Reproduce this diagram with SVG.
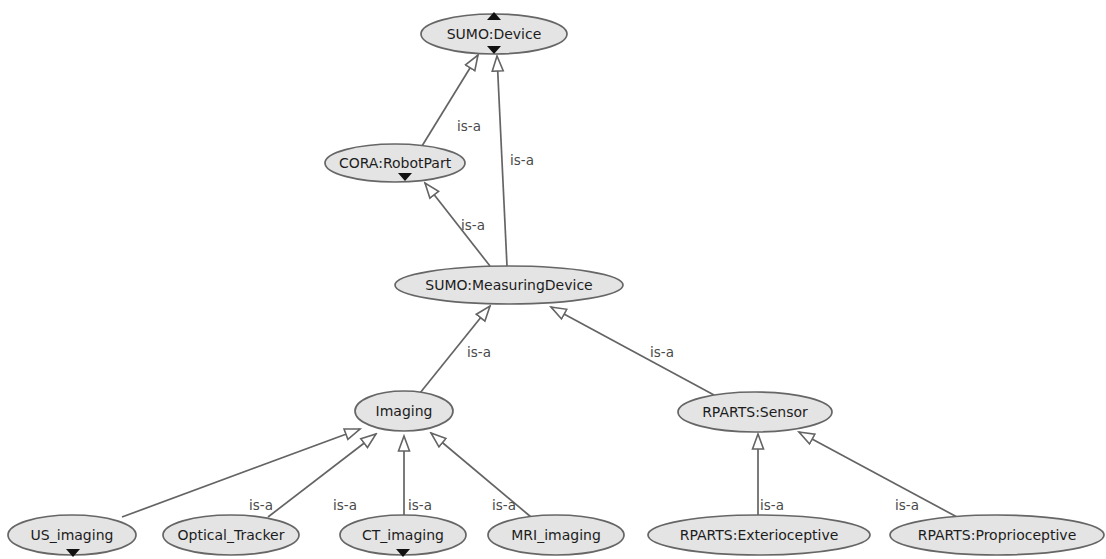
<svg xmlns="http://www.w3.org/2000/svg" width="1106" height="559" viewBox="0 0 1106 559">
  <style>
    .node ellipse { fill: #e4e4e4; stroke: #666; stroke-width: 1.7; }
    .node text { font-family: "DejaVu Sans", "Liberation Sans", sans-serif; font-size: 14px; fill: #1c1c1c; text-anchor: middle; }
    .expand { fill: #111; }
    .edges line { stroke: #646464; stroke-width: 1.7; fill: none; }
    .lbl { font-family: "DejaVu Sans", "Liberation Sans", sans-serif; font-size: 13.5px; fill: #4a4a4a; }
  </style>
  <defs>
    <!-- hollow "is-a" arrowhead -->
    <marker id="isa" markerUnits="userSpaceOnUse" markerWidth="18" markerHeight="14" refX="16" refY="7" orient="auto">
      <path d="M1,1.5 L16,7 L1,12.5 Z" fill="#fff" stroke="#646464" stroke-width="1.6"/>
    </marker>
  </defs>
  <rect width="1106" height="559" fill="#fff"/>

  <g class="edges">
    <line x1="422" y1="146" x2="478" y2="55" marker-end="url(#isa)"/>
    <line x1="507" y1="266" x2="497" y2="56" marker-end="url(#isa)"/>
    <line x1="490" y1="266" x2="425" y2="183" marker-end="url(#isa)"/>
    <line x1="420" y1="393" x2="490" y2="306" marker-end="url(#isa)"/>
    <line x1="714" y1="395" x2="551" y2="307" marker-end="url(#isa)"/>
    <line x1="122" y1="517" x2="360" y2="429" marker-end="url(#isa)"/>
    <line x1="268" y1="517" x2="376" y2="434" marker-end="url(#isa)"/>
    <line x1="404" y1="515" x2="404" y2="436" marker-end="url(#isa)"/>
    <line x1="531" y1="517" x2="431" y2="433" marker-end="url(#isa)"/>
    <line x1="758" y1="515" x2="758" y2="434" marker-end="url(#isa)"/>
    <line x1="957" y1="517" x2="799" y2="432" marker-end="url(#isa)"/>
    <text class="lbl" x="457" y="131">is-a</text>
    <text class="lbl" x="510" y="165">is-a</text>
    <text class="lbl" x="461" y="230">is-a</text>
    <text class="lbl" x="467" y="357">is-a</text>
    <text class="lbl" x="650" y="357">is-a</text>
    <text class="lbl" x="249" y="510">is-a</text>
    <text class="lbl" x="333" y="510">is-a</text>
    <text class="lbl" x="408" y="510">is-a</text>
    <text class="lbl" x="492" y="510">is-a</text>
    <text class="lbl" x="760" y="510">is-a</text>
    <text class="lbl" x="895" y="510">is-a</text>
  </g>

  <g id="sumo-device" class="node">
    <ellipse cx="494" cy="34" rx="73" ry="20"/>
    <text x="494" y="39">SUMO:Device</text>
    <path class="expand" d="M487,20 L494,12 L501,20 Z"/>
    <path class="expand" d="M487,46 L501,46 L494,54 Z"/>
  </g>
  <g id="cora-robotpart" class="node">
    <ellipse cx="395" cy="163" rx="70" ry="19"/>
    <text x="395" y="168">CORA:RobotPart</text>
    <path class="expand" d="M398,173 L412,173 L405,181 Z"/>
  </g>
  <g id="sumo-measuringdevice" class="node">
    <ellipse cx="509" cy="285" rx="114" ry="19"/>
    <text x="509" y="290">SUMO:MeasuringDevice</text>
  </g>
  <g id="imaging" class="node">
    <ellipse cx="404" cy="411" rx="49" ry="20"/>
    <text x="404" y="416">Imaging</text>
  </g>
  <g id="rparts-sensor" class="node">
    <ellipse cx="755" cy="412" rx="77" ry="20"/>
    <text x="755" y="417">RPARTS:Sensor</text>
  </g>
  <g id="us-imaging" class="node">
    <ellipse cx="72" cy="535" rx="64" ry="20"/>
    <text x="72" y="540">US_imaging</text>
    <path class="expand" d="M66,549 L80,549 L73,557 Z"/>
  </g>
  <g id="optical-tracker" class="node">
    <ellipse cx="231" cy="535" rx="68" ry="20"/>
    <text x="231" y="540">Optical_Tracker</text>
  </g>
  <g id="ct-imaging" class="node">
    <ellipse cx="403" cy="535" rx="63" ry="20"/>
    <text x="403" y="540">CT_imaging</text>
    <path class="expand" d="M396,549 L410,549 L403,557 Z"/>
  </g>
  <g id="mri-imaging" class="node">
    <ellipse cx="556" cy="535" rx="68" ry="20"/>
    <text x="556" y="540">MRI_imaging</text>
  </g>
  <g id="rparts-exterioceptive" class="node">
    <ellipse cx="759" cy="535" rx="111" ry="20"/>
    <text x="759" y="540">RPARTS:Exterioceptive</text>
  </g>
  <g id="rparts-proprioceptive" class="node">
    <ellipse cx="997" cy="535" rx="107" ry="20"/>
    <text x="997" y="540">RPARTS:Proprioceptive</text>
  </g>
</svg>
